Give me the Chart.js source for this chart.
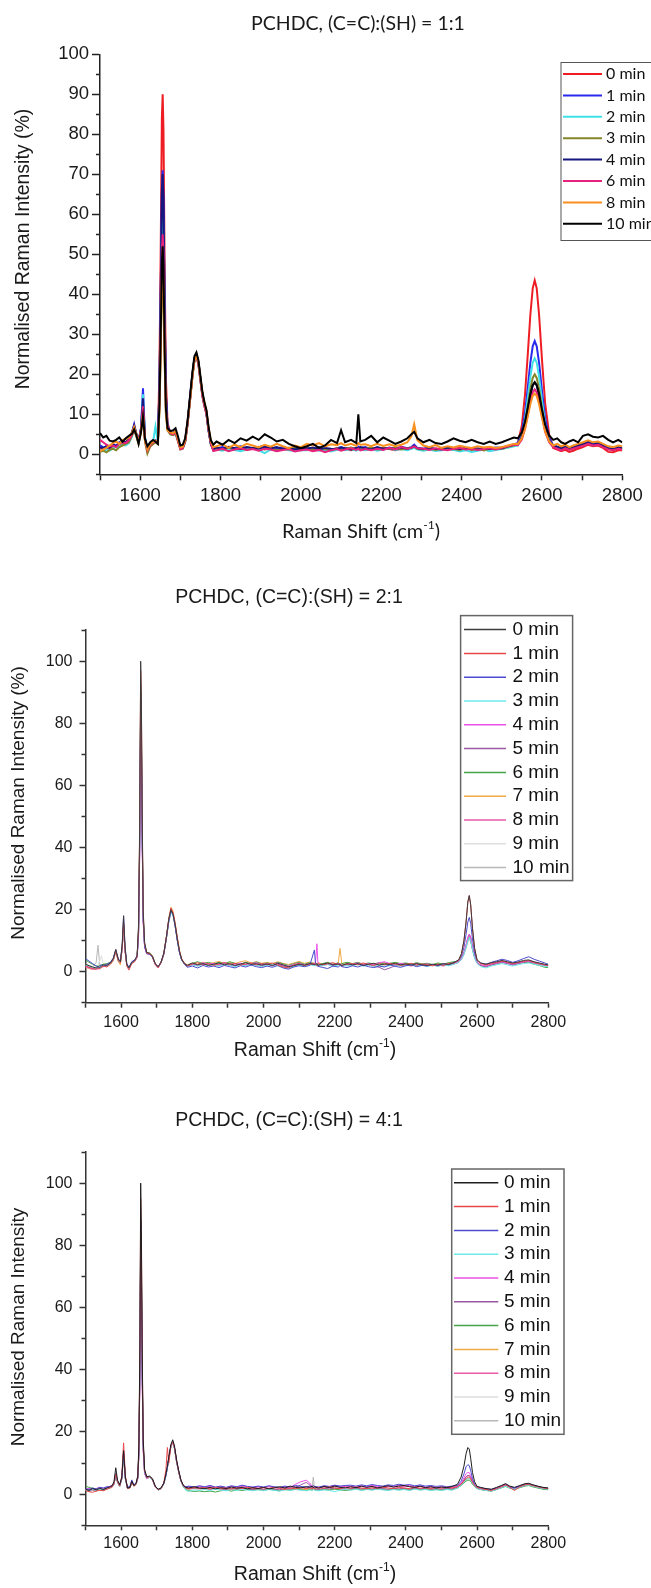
<!DOCTYPE html>
<html>
<head>
<meta charset="utf-8">
<script src="https://cdn.jsdelivr.net/npm/chart.js@4.4.1/dist/chart.umd.min.js"></script>
<style>
  html, body { margin: 0; padding: 0; background: #fff; }
  body { width: 651px; height: 1588px; position: relative; overflow: hidden; }
  canvas { position: absolute; left: 0; }
</style>
</head>
<body>
<canvas id="c1" width="651" height="560" style="top:0px"></canvas>
<canvas id="c2" width="651" height="520" style="top:560px"></canvas>
<canvas id="c3" width="651" height="508" style="top:1080px"></canvas>
<script>
// ---------- (C=C):(SH) = 1:1 ----------
const shift11 = [
  1500,1508,1516,1524,1532,1540,1548,1556,1564,1572,1580,
  1585,1590,1596,1602,1607,1612,1618,
  1625,1632,1638,1644,
  1648,1651,1654,1656,1658,1661,1664,1668,
  1675,1682,1688,1694,1700,1706,1712,1718,
  1724,1730,1735,1740,1745,1750,1755,1760,1765,1770,1776,1782,
  1790,1805,1820,1835,1850,1865,1880,1895,1910,1925,1940,1955,1970,1985,2000,
  2015,2030,2045,2060,2075,2090,2100,2110,2125,2138,2143,2148,
  2160,2175,2190,2205,2220,2235,2250,2265,2275,2282,2290,
  2305,2320,2335,2350,2365,2380,2395,2410,2425,2440,2455,2470,2485,2500,2515,2530,
  2540,2550,2558,2565,2571,2577,2582,2587,2593,2600,2608,2618,
  2628,2638,2648,2658,2668,2678,2690,2702,2715,2727,2740,2752,2765,2777,2790,2800
];
const labels11 = ['0 min','1 min','2 min','3 min','4 min','6 min','8 min','10 min'];
const ratio11_t0 = [
  1.5,1.2,1.8,1.4,2.0,2.2,2.6,2.4,3.0,3.6,5.0,
  6.5,5.0,3.0,6.0,11.0,3.5,0.8,
  2.0,2.6,3.2,2.8,
  22,50,84,90,81,45,19,8,
  5.2,5.0,5.5,3.5,1.5,1.6,3.2,7.8,
  13.5,19.5,23.5,24.5,22.5,18.5,14.5,12,10,6,2.6,1.4,
  1.6,1.2,1.8,1.5,1.2,1.7,1.4,1.9,1.3,1.6,1.2,1.5,1.1,1.4,1.0,
  1.3,1.0,1.4,0.9,1.2,1.5,1.1,1.3,1.0,1.4,1.6,1.2,
  1.1,1.5,1.2,1.6,1.3,1.0,1.4,1.2,1.5,1.8,1.3,
  1.1,1.4,1.0,1.3,1.5,1.2,1.0,1.4,1.1,1.3,1.0,1.2,1.5,1.3,1.8,2.2,
  2.8,7.2,15.2,25.4,34.7,41.5,43.5,41.5,34.7,23.8,12.7,4.9,
  1.6,1.2,0.8,1.1,0.6,0.9,1.4,1.8,2.4,2.0,2.2,1.6,0.6,0.5,1.0,1.0
];
const ratio11_t1 = [
  2.2,1.8,1.5,2.0,2.6,2.1,3.0,3.4,2.8,3.5,5.5,
  7.5,5.2,3.2,6.5,16.5,4.0,1.5,
  2.4,3.0,3.5,3.0,
  17,39,66,71,64,36,15,7,
  5.6,5.2,5.8,3.8,1.6,1.7,3.4,8.0,
  14,20,24,25,23,19,15,12.5,10.5,6.2,2.6,1.2,
  1.4,1.8,1.2,1.6,2.0,1.5,1.3,1.8,2.2,1.6,1.4,1.9,1.3,1.6,1.2,
  1.6,1.3,1.8,1.2,0.9,1.5,1.8,1.4,1.6,1.2,1.9,1.5,
  1.8,1.3,1.6,1.2,1.7,1.4,1.9,1.5,1.8,2.4,1.6,
  1.4,1.7,1.2,1.5,1.8,1.4,1.2,1.6,1.3,1.5,1.1,1.4,1.7,1.6,2.0,2.5,
  2.8,5.6,10.5,17,22.8,27,28.3,27,22.8,16,9,4.1,
  2.2,1.8,1.4,2.0,1.6,1.9,2.4,2.8,3.2,2.6,3.0,2.4,1.6,1.2,1.8,1.5
];
const ratio11_t2 = [
  1.0,0.8,1.2,0.9,1.5,1.8,2.0,2.4,2.2,2.8,4.5,
  6.5,4.8,3.0,6.0,15.0,4.2,1.0,
  2.2,3.0,7.0,3.2,
  15,34,58,62,56,31,13,7,
  5.0,4.8,5.2,3.4,1.4,1.5,3.2,7.6,
  13.5,19.5,23.5,24.5,22.5,18.5,14.5,12,10,6,2.4,1.0,
  1.2,0.9,1.4,1.1,0.8,1.2,1.5,1.0,0.3,1.2,0.9,1.3,1.0,0.8,1.1,
  1.0,1.4,0.9,1.2,0.7,1.1,1.5,1.0,1.3,0.9,1.2,1.4,
  1.0,1.3,0.9,1.2,1.5,1.1,1.3,1.0,1.4,1.6,1.2,
  0.9,1.2,0.8,1.0,1.3,1.1,0.7,1.0,0.6,0.9,1.2,0.8,1.1,1.3,1.6,2.0,
  2.2,4.5,8.8,14.3,19.3,22.9,24,22.9,19.3,13.5,7.5,3.3,
  2.0,1.6,1.2,1.8,1.4,1.7,2.0,2.4,2.8,2.3,2.6,2.0,1.4,1.1,1.5,1.3
];
const ratio11_t3 = [
  0.6,0.9,0.5,1.1,1.4,1.0,1.8,2.2,2.6,3.0,4.8,
  6.0,4.6,2.6,5.5,10.5,3.2,0.2,
  2.0,2.6,3.0,2.6,
  11,25,42,45,40,23,10,6,
  5.0,4.8,5.3,3.3,1.2,1.4,3.0,7.4,
  13.5,19.5,23.5,25,23,19,15,12.5,10.5,6.5,2.6,1.2,
  1.5,1.2,1.7,1.3,1.6,1.1,1.4,1.8,1.2,1.5,1.0,1.4,1.2,1.6,1.3,
  1.5,1.2,1.6,1.3,1.1,1.5,1.2,1.4,1.7,1.3,1.5,1.2,
  1.4,1.7,1.2,1.5,1.3,1.6,1.2,1.5,1.7,2.0,1.4,
  1.2,1.5,1.1,1.4,1.6,1.3,1.1,1.5,1.2,1.4,1.0,1.3,1.6,1.4,1.9,2.2,
  2.6,4.4,7.9,12.2,16.2,19.1,20,19.1,16.2,11.6,6.8,3.4,
  2.0,1.7,1.3,1.6,1.2,1.5,1.9,2.3,2.7,2.2,2.5,1.9,1.4,1.2,1.6,1.4
];
const ratio11_t4 = [
  1.8,1.5,2.1,1.7,2.4,2.0,2.8,3.2,3.0,3.8,5.6,
  7.2,5.4,3.4,6.4,14,4.0,1.2,
  2.5,3.1,3.4,3.0,
  17,38.5,65,70,63,35,15,7,
  5.4,5.3,5.7,3.6,1.6,1.7,3.4,7.9,
  14,20,24,25,23,18.8,14.8,12.3,10.3,6.2,2.5,1.3,
  1.7,1.4,1.9,1.5,1.3,1.8,1.6,1.4,1.9,1.5,1.8,1.3,1.6,1.2,1.5,
  1.4,1.7,1.2,1.6,1.4,1.3,1.7,1.5,1.2,1.6,1.4,1.8,
  1.5,1.2,1.8,1.4,1.6,1.3,1.7,1.4,1.6,2.1,1.5,
  1.3,1.6,1.4,1.2,1.7,1.5,1.3,1.6,1.4,1.2,1.5,1.3,1.6,1.5,2.0,2.4,
  2.5,4.2,7.2,11.1,14.6,17.2,18,17.2,14.6,10.5,6.3,3.3,
  2.3,1.9,1.5,2.0,1.6,1.8,2.2,2.6,3.0,2.4,2.8,2.2,1.5,1.3,1.7,1.5
];
const ratio11_t6 = [
  3.6,3.0,2.4,2.0,2.2,1.8,2.6,3.0,2.8,3.5,5.0,
  6.6,5.0,3.2,6.0,12,3.6,1.0,
  2.4,3.0,3.3,2.8,
  13,30,51,55,50,28,12,6.5,
  5.3,5.0,5.6,3.4,1.3,1.5,3.3,7.7,
  13.5,19.5,23.5,24.5,22.5,18.5,14.5,12,10,6.3,2.7,0.8,
  1.0,1.4,0.8,1.2,1.5,1.1,1.3,0.9,1.4,1.2,0.8,1.1,1.3,0.7,1.0,
  1.2,0.8,1.1,0.5,1.0,1.3,0.9,1.2,1.5,1.1,1.4,1.0,
  1.3,1.0,1.4,1.1,1.6,1.2,1.8,1.4,1.6,2.0,1.5,
  1.4,1.1,1.5,1.2,1.0,1.3,1.6,1.2,1.4,1.1,1.3,1.5,1.2,1.6,2.0,2.4,
  2.3,3.7,6.5,10,13.2,15.5,16.2,15.5,13.2,9.5,5.6,3.0,
  1.8,1.4,1.0,1.5,1.1,1.4,1.8,2.1,2.6,2.2,2.4,1.8,1.2,1.0,1.4,1.2
];
const ratio11_t8 = [
  0.8,1.2,1.6,2.2,2.8,3.2,2.6,3.6,3.8,4.2,5.5,
  6.8,5.2,3.0,5.8,10,3.4,1.2,
  2.6,3.2,3.4,3.0,
  11,26,44,47,42,24,10.5,6,
  5.5,5.3,5.9,3.8,1.7,1.9,3.6,8.1,
  13.5,19.5,23.5,24.5,23,19,15.2,12.8,10.8,6.8,3.2,1.8,
  2.0,2.5,1.6,2.4,1.8,2.6,2.2,1.7,2.4,1.9,2.6,2.0,1.5,2.2,1.8,
  2.6,2.2,2.8,2.0,2.5,2.3,2.8,2.2,2.6,2.1,2.8,2.4,
  2.5,2.0,2.6,2.1,2.5,2.0,2.4,3.0,4.5,7.5,3.5,
  2.2,1.8,2.3,1.6,2.0,1.7,2.1,1.8,1.6,2.0,1.7,1.9,1.6,1.8,2.2,2.6,
  2.6,4.0,6.4,9.6,12.5,14.6,15.2,14.6,12.5,9.1,5.7,3.2,
  2.2,2.6,2.0,2.4,1.8,2.2,2.6,3.0,3.5,3.0,3.2,2.6,2.0,1.8,2.2,2.0
];
const ratio11_t10 = [
  5.3,4.2,4.6,3.4,3.2,3.6,4.2,3.1,4.0,4.6,5.2,
  6.2,5.0,2.6,5.5,9.5,3.8,2.0,
  3.0,3.6,3.2,2.6,
  12.5,29,48,52,47,26,11.5,6.5,
  5.8,6.0,6.5,4.5,2.2,2.4,4.0,8.4,
  14.5,20.5,24.5,25.5,23.5,19.5,15.5,13,11,7,3.5,2.4,
  3.2,2.4,3.6,2.8,4.0,3.4,4.4,3.6,5.0,4.2,3.2,3.6,2.6,2.0,1.5,
  2.0,2.6,1.6,2.2,3.6,2.8,6.0,3.0,3.6,2.8,10,3.2,
  3.6,4.6,3.0,4.2,3.4,2.6,3.2,4.0,5.0,5.6,4.0,
  3.0,3.6,2.8,2.6,3.2,4.0,3.4,3.0,3.6,3.0,2.6,3.2,2.6,3.0,3.6,4.2,
  4.0,5.5,8.2,11.8,15,17.3,18,17.3,15,11.2,7.4,4.7,
  3.6,4.0,3.0,2.6,3.2,3.6,3.0,4.6,5.0,4.4,4.2,4.6,3.6,3.0,3.6,3.0
];
const colors11 = ['#ee1d23','#2a2aee','#40e0e8','#85862a','#16167e','#e8217c','#f88f1e','#000000'];

// ---------- (C=C):(SH) = 2:1 ----------
const shift21 = [
  1500,1510,1520,1530,1535,1540,1545,1550,1560,1570,
  1578,1585,1592,1598,1603,1607,1611,1616,1622,1630,
  1638,1645,1649,1652,1655,1657,1659,1662,1666,1672,
  1680,1688,1696,1704,1712,1720,1727,1734,1740,1746,
  1752,1758,1764,1770,1778,1786,1800,1815,1830,1845,
  1860,1875,1890,1905,1920,1935,1950,1965,1980,1995,
  2010,2025,2040,2055,2070,2085,2100,2115,2130,2143,
  2146,2150,2153,2165,2180,2195,2210,2215,2220,2235,
  2250,2265,2280,2295,2310,2325,2340,2355,2370,2385,
  2400,2415,2430,2445,2460,2475,2490,2505,2520,2535,
  2548,2556,2563,2569,2574,2578,2582,2587,2593,2600,
  2610,2625,2640,2655,2670,2685,2700,2715,2730,2745,
  2760,2775,2790,2800
];
const labels21 = ['0 min','1 min','2 min','3 min','4 min','5 min','6 min','7 min','8 min','9 min','10 min'];
const ratio21_t0 = [
  2.4,1.9,1.5,1.2,1.6,1.3,1.8,2.2,2.0,2.8,
  4.2,7.2,4.0,3.2,8.5,18,8.0,2.4,1.2,3.0,
  3.6,5.2,15,46,100,88,55,20,9.5,6.2,
  6.0,5.0,2.6,1.6,3.0,6.0,11,17,20,18.5,
  15,10.5,6.5,4,2.6,2.0,2.8,2.2,2.6,2.0,
  2.4,2.8,2.2,2.6,2.0,2.4,2.9,2.3,2.6,2.1,
  2.5,2.0,2.7,2.2,1.6,1.9,2.4,2.1,2.6,2.3,
  2.2,2.6,2.0,2.4,2.8,2.2,2.5,2.3,2.0,2.6,
  2.2,2.6,2.0,2.4,2.7,2.1,2.5,2.3,2.7,2.2,
  2.5,2.1,2.6,2.2,2.0,2.4,2.1,2.6,2.3,2.9,
  3.8,5.8,10,16,22.5,24.5,21.5,14,7.5,3.8,
  2.8,2.4,2.9,3.2,3.6,3.2,2.8,3.1,3.6,3.8,
  3.2,2.8,2.4,2.2
];
const ratio21_t1 = [
  1.8,1.4,1.0,0.8,1.2,0.9,1.4,1.8,1.5,2.4,
  3.8,6.5,3.5,2.8,7.5,15.5,7.0,1.8,0.5,2.6,
  3.2,4.8,14,44,97,86,53,19,9.0,6.0,
  5.8,4.8,2.2,1.2,2.8,5.8,11,17,20.5,19,
  15.5,11,6.8,4.2,2.5,1.8,2.4,2.9,2.2,2.6,
  2.0,2.5,2.9,2.3,2.7,2.1,2.5,2.8,2.2,2.6,
  2.3,2.8,2.1,1.5,1.2,2.2,2.6,2.0,2.4,2.8,
  2.4,2.0,2.6,2.2,2.5,2.9,2.3,2.6,2.1,2.4,
  2.6,2.2,2.8,2.3,2.0,2.5,2.2,2.7,2.4,2.0,
  2.3,2.7,2.1,2.5,2.2,1.9,2.4,2.0,2.6,2.8,
  3.6,5.5,9.8,16,22.5,24.5,21.5,14,7.5,3.6,
  2.6,2.2,2.6,3.0,3.4,3.0,2.6,3.0,3.3,3.6,
  3.0,2.6,2.2,2.0
];
const ratio21_t2 = [
  4.2,3.4,2.6,1.8,1.5,1.8,2.2,1.9,2.4,3.0,
  4.4,7.0,4.2,3.4,8.6,18,8.2,2.6,1.4,3.2,
  3.8,5.0,12,38,85,75,47,17,8.0,5.8,
  5.6,4.6,2.4,1.4,2.9,5.6,10.5,16.5,19.5,18.5,
  14.5,10,6.2,3.8,2.4,1.4,1.8,1.2,2.0,1.5,
  1.8,1.3,2.0,1.6,1.2,1.9,1.5,2.1,1.6,1.3,
  1.8,1.4,2.0,1.2,0.8,1.5,1.9,1.6,2.0,7.0,
  2.6,2.0,1.7,1.4,1.0,1.8,1.5,2.0,1.6,1.3,
  1.9,1.5,2.1,1.6,1.3,1.8,1.5,2.2,1.7,1.4,
  1.9,2.2,1.6,2.0,1.8,2.3,1.9,2.5,2.3,3.0,
  3.6,5.0,7.8,12,16,17.5,15.5,10.5,6.0,3.5,
  2.8,2.4,3.0,3.5,4.0,3.6,3.0,3.5,4.2,4.8,
  4.0,3.4,2.8,2.4
];
const ratio21_t3 = [
  2.0,1.6,1.3,1.0,1.4,1.2,1.5,1.9,1.7,2.5,
  3.6,6.4,3.6,2.8,7.6,15.5,7.2,2.0,1.0,2.8,
  3.3,4.8,13,40,88,77,48,18,8.5,5.9,
  5.8,4.8,2.4,1.4,2.8,5.6,10.5,16,19,18,
  14.5,10,6.2,3.8,2.3,1.7,2.2,1.8,2.4,2.0,
  2.2,1.8,2.4,2.0,1.6,2.2,1.9,2.4,2.0,1.7,
  2.0,2.4,1.8,1.4,1.1,1.7,2.1,1.8,2.2,1.9,
  2.1,1.8,2.2,1.9,2.3,1.7,2.1,1.9,2.2,1.8,
  2.0,2.3,1.8,2.1,1.7,2.0,1.6,1.9,2.2,1.8,
  2.0,2.3,1.9,2.1,1.7,2.0,1.8,2.2,1.9,2.4,
  3.0,4.0,5.6,7.8,10,11,10,7.0,4.4,2.6,
  1.6,1.2,1.8,2.2,2.6,2.2,1.8,2.2,2.6,2.8,
  2.4,2.0,1.7,1.6
];
const ratio21_t4 = [
  1.6,1.2,0.8,1.0,0.8,1.2,1.5,1.6,1.8,2.6,
  3.8,6.8,3.8,3.0,7.4,14.5,6.8,2.2,1.2,2.8,
  3.4,4.6,11,36,80,70,44,16,8.0,5.8,
  5.8,4.9,2.5,1.5,3.0,5.8,10.8,16.5,19.5,18.5,
  14.8,10.2,6.4,4.0,2.6,2.0,2.6,2.2,2.9,2.4,
  2.7,2.2,2.9,2.4,2.1,2.8,2.3,2.6,2.9,2.3,
  2.6,2.2,2.8,2.1,1.8,2.3,2.7,2.2,2.6,2.4,
  2.8,9.0,2.6,2.2,2.7,2.3,2.6,2.4,2.0,2.5,
  2.4,2.8,2.2,2.6,2.3,2.9,3.2,2.6,2.3,2.7,
  2.4,2.0,2.6,2.2,2.5,2.1,2.4,2.0,2.6,2.8,
  3.2,4.2,6.0,8.5,11,12,11,7.8,4.8,2.8,
  2.2,1.8,2.4,2.8,3.2,2.8,2.4,2.8,3.2,3.4,
  3.0,2.6,2.2,2.0
];
const ratio21_t5 = [
  2.0,1.5,1.1,0.9,1.3,1.0,1.6,1.8,1.9,2.6,
  3.7,6.6,3.7,2.9,7.4,15,7.0,2.0,1.1,2.7,
  3.3,4.7,12,39,86,76,47,17,8.2,5.8,
  5.7,4.8,2.4,1.5,2.9,5.7,10.6,16.2,19.2,18.2,
  14.6,10,6.3,3.9,2.5,1.9,2.3,1.9,2.5,2.1,
  2.4,1.9,2.5,2.1,1.8,2.4,2.0,2.6,2.2,1.9,
  2.3,1.9,2.4,1.8,1.3,1.9,2.3,1.9,2.4,2.1,
  2.4,2.0,2.3,2.0,2.4,2.0,2.3,2.1,1.8,2.2,
  2.1,2.5,1.9,2.2,1.8,1.4,0.6,1.2,1.9,2.3,
  2.1,2.5,2.0,2.3,1.9,2.2,1.8,2.3,2.0,2.5,
  3.0,4.0,5.8,8.2,10.8,12,10.8,7.6,4.6,2.7,
  2.0,1.6,2.2,2.6,3.0,2.6,2.2,2.6,3.0,3.2,
  2.8,2.4,2.0,1.8
];
const ratio21_t6 = [
  3.8,3.0,2.4,1.9,1.7,2.0,2.2,2.4,2.6,3.0,
  4.0,6.8,3.9,3.1,7.8,15.5,7.2,2.3,1.2,2.9,
  3.5,4.9,13,41,90,79,49,18,8.5,5.9,
  5.9,4.9,2.5,1.5,2.9,5.8,10.8,16.4,19.5,18.5,
  14.8,10.2,6.4,4.0,2.6,2.1,2.7,3.2,2.6,3.0,
  2.5,3.0,2.6,3.2,2.7,2.4,3.0,2.6,3.1,2.5,
  2.8,2.4,3.0,2.5,2.0,2.6,3.0,2.4,2.9,2.6,
  2.3,2.7,2.2,2.6,3.0,2.4,2.8,2.3,2.6,3.0,
  2.6,3.0,2.4,2.8,2.5,2.9,2.4,2.7,3.0,2.6,
  2.8,2.4,2.9,2.5,2.7,2.3,2.8,2.4,2.9,3.2,
  3.4,4.4,6.0,8.0,10,11,10,7.2,4.6,2.9,
  2.0,1.6,2.2,2.6,3.0,2.8,2.2,2.6,3.0,3.0,
  2.4,2.0,1.4,1.3
];
const ratio21_t7 = [
  1.4,1.0,0.7,0.9,1.1,1.4,1.3,1.7,1.9,2.4,
  3.4,6.4,3.2,2.2,7.2,15,7.0,2.1,1.0,2.7,
  3.3,4.8,13,42,92,81,50,18,8.6,6.0,
  6.1,5.1,2.6,1.6,3.0,6.0,11.2,17.2,20.8,19.5,
  15.4,10.8,6.8,4.2,2.7,2.2,2.8,2.4,3.0,2.6,
  2.9,3.3,2.6,3.0,2.6,3.2,3.5,2.8,3.2,2.7,
  3.0,2.6,3.2,2.7,2.3,2.8,3.3,2.7,3.1,2.6,
  2.8,2.4,2.9,2.5,2.8,2.4,2.8,7.5,2.6,2.9,
  2.5,2.9,2.4,2.7,2.3,2.6,2.8,2.4,2.9,2.5,
  2.6,2.2,2.7,2.3,2.6,2.2,2.6,2.3,2.8,3.0,
  3.2,4.2,6.0,8.4,10.8,11.5,10.6,7.6,4.8,3.0,
  2.2,1.8,2.4,2.8,3.2,2.9,2.4,2.8,3.2,3.4,
  3.0,2.6,2.2,2.0
];
const ratio21_t8 = [
  1.7,1.3,0.9,1.1,1.0,1.3,1.6,1.7,2.0,2.7,
  3.9,6.9,3.9,3.1,7.3,14,6.6,2.1,1.1,2.8,
  3.4,4.7,12,37,83,73,45,16.5,8.0,5.8,
  5.8,4.9,2.5,1.5,2.9,5.8,10.7,16.4,19.3,18.3,
  14.7,10.1,6.3,3.9,2.5,1.9,2.5,2.1,2.7,2.3,
  2.6,2.1,2.7,2.3,2.0,2.6,2.2,2.7,2.4,2.0,
  2.4,2.0,2.6,2.0,1.6,2.1,2.5,2.0,2.5,2.2,
  2.5,2.1,2.4,2.1,2.5,2.1,2.4,2.2,1.9,2.3,
  2.2,2.6,2.0,2.4,2.1,2.7,2.9,2.4,2.1,2.5,
  2.2,1.8,2.4,2.0,2.3,1.9,2.2,1.8,2.4,2.6,
  3.2,4.3,6.1,8.6,11,12,11,7.8,4.8,2.8,
  2.1,1.7,2.3,2.7,3.1,2.7,2.3,2.7,3.1,3.3,
  2.9,2.5,2.1,1.9
];
const ratio21_t9 = [
  2.2,1.7,1.3,1.6,2.2,3.5,5.2,2.4,2.0,2.6,
  3.7,6.7,3.7,2.9,7.3,15,7.0,2.1,1.1,2.8,
  3.4,4.8,12,40,88,77,48,17.5,8.4,5.9,
  5.8,4.8,2.4,1.4,2.9,5.7,10.6,16.2,19.2,18.2,
  14.6,10,6.3,3.9,2.4,1.8,2.3,1.9,2.5,2.1,
  2.3,1.9,2.5,2.1,1.8,2.4,2.0,2.5,2.1,1.8,
  2.2,1.8,2.4,1.8,1.3,1.9,2.3,1.9,2.4,2.1,
  2.3,1.9,2.2,1.9,2.3,1.9,2.2,2.0,1.8,2.1,
  2.0,2.4,1.9,2.2,1.9,2.3,2.0,2.2,2.4,2.0,
  2.1,2.4,1.9,2.2,1.8,2.1,1.8,2.2,1.9,2.4,
  3.0,3.9,5.5,7.6,9.8,10.5,9.6,7.0,4.4,2.7,
  1.9,1.5,2.1,2.5,2.9,2.5,2.1,2.5,2.9,3.1,
  2.7,2.3,1.9,1.7
];
const ratio21_t10 = [
  2.6,2.0,1.6,3.0,8.5,2.2,2.0,2.2,2.2,2.8,
  3.8,6.8,3.8,3.0,7.5,15,7.1,2.2,1.2,2.9,
  3.5,4.9,12.5,41,89,78,48,17.5,8.4,5.9,
  5.9,4.9,2.5,1.5,2.9,5.7,10.6,16.2,19.2,18.2,
  14.6,10,6.3,3.9,2.5,1.9,2.4,2.0,2.6,2.2,
  2.4,2.0,2.6,2.2,1.9,2.5,2.1,2.6,2.2,1.9,
  2.3,1.9,2.5,1.9,1.4,2.0,2.4,2.0,2.5,2.2,
  2.4,2.0,2.3,2.0,2.4,2.0,2.3,2.1,1.9,2.2,
  2.1,2.5,2.0,2.3,2.0,2.4,2.1,2.3,2.5,2.1,
  2.2,2.5,2.0,2.3,1.9,2.2,1.9,2.3,2.0,2.5,
  3.0,3.9,5.4,7.5,9.6,10.5,9.6,7.0,4.4,2.7,
  2.0,1.6,2.2,2.6,3.0,2.6,2.2,2.6,3.0,3.2,
  2.8,2.4,2.0,1.8
];
const colors21 = ['#3c3c3c','#e8474a','#4c4ccf','#6ee9ec','#ea52ea','#9b59a3','#46a546','#f2a947','#e65aa8','#dedede','#b8b8b8'];

// ---------- (C=C):(SH) = 4:1 ----------
const shift41 = [
  1500,1510,1520,1530,1540,1550,1560,1568,1575,1580,
  1585,1590,1596,1602,1607,1612,1618,1625,1630,1636,
  1642,1647,1650,1653,1655,1657,1659,1662,1666,1672,
  1680,1688,1696,1704,1712,1720,1726,1730,1734,1740,
  1745,1750,1756,1762,1768,1775,1782,1790,1805,1820,
  1835,1850,1865,1880,1895,1910,1925,1940,1955,1970,
  1985,2000,2015,2030,2045,2060,2075,2090,2105,2120,
  2130,2137,2140,2143,2155,2170,2185,2200,2215,2230,
  2245,2260,2275,2290,2305,2320,2335,2350,2365,2380,
  2395,2410,2425,2440,2455,2470,2485,2500,2515,2530,
  2545,2555,2563,2569,2574,2578,2582,2587,2593,2600,
  2610,2625,2640,2655,2668,2680,2692,2705,2720,2735,
  2745,2755,2770,2785,2800
];
const labels41 = ['0 min','1 min','2 min','3 min','4 min','5 min','6 min','7 min','8 min','9 min','10 min'];
const ratio41_t0 = [
  1.6,1.2,1.8,1.4,1.9,1.5,2.0,2.4,2.8,4.0,
  8.5,4.5,3.0,5.5,14,5.5,2.0,2.2,4.2,2.8,
  3.4,6.0,16,50,100,85,50,18,8.0,5.6,
  5.8,5.0,2.6,1.6,2.0,3.6,6.5,9,12,16,
  17.5,15.5,11,7.5,4.6,2.8,2.2,2.0,2.4,2.0,
  1.8,2.2,1.7,2.1,1.8,2.3,1.9,2.2,1.7,2.1,
  1.8,2.2,1.7,2.0,2.4,2.0,2.6,2.2,2.0,2.4,
  2.2,2.6,2.0,2.4,1.9,2.5,2.1,2.6,2.2,2.0,
  2.4,2.1,2.6,2.2,2.5,2.0,2.4,2.7,2.3,2.6,
  2.8,2.4,2.2,2.6,2.1,2.4,2.0,2.3,2.1,2.5,
  3.2,5.5,9,13,15,14.5,11.5,7,4,2.5,
  2.2,1.8,1.6,2.2,2.8,3.4,2.6,2.2,2.8,3.4,
  3.5,3.1,2.6,2.2,2.0
];
const ratio41_t1 = [
  1.2,0.8,0.6,1.0,1.3,1.1,1.6,2.0,2.4,3.4,
  6.5,4.0,2.6,5.8,16.5,6.0,1.8,2.0,3.8,2.6,
  3.2,5.7,15,48,95,81,48,17,7.6,5.4,
  5.6,4.8,2.4,1.4,1.8,3.6,8,15,10,15.5,
  16.8,15,10.6,7.2,4.4,2.6,2.0,1.8,2.2,1.9,
  2.1,1.7,2.2,1.8,2.0,1.6,2.1,1.8,2.2,1.9,
  1.7,2.1,1.8,2.2,1.9,1.5,2.0,1.7,2.1,1.8,
  2.0,1.7,2.1,1.8,2.2,1.9,2.4,2.0,1.8,2.2,
  1.9,2.3,2.0,1.7,2.1,1.9,2.3,2.0,1.8,2.2,
  2.0,1.8,2.3,1.9,2.1,1.8,2.2,1.9,2.3,2.0,
  2.4,3.2,4.2,5.0,5.5,5.5,5.0,3.8,2.8,2.2,
  1.8,1.5,1.2,1.8,2.4,3.0,2.2,1.2,2.4,3.0,
  3.2,2.8,2.4,2.0,1.8
];
const ratio41_t2 = [
  1.8,1.5,2.0,1.7,2.2,2.0,2.4,2.2,2.6,3.6,
  6.6,4.2,2.8,5.2,14,5.2,2.2,2.6,4.6,3.0,
  3.6,5.6,14,44,88,75,44,16,7.2,5.4,
  5.7,4.9,2.5,1.5,1.9,3.5,6.3,8.8,11.8,15.8,
  17,15,10.6,7.2,4.4,2.8,2.4,2.6,2.3,2.7,
  2.4,2.8,2.3,2.6,2.2,2.7,2.4,2.9,2.5,2.3,
  2.6,2.3,2.7,2.4,2.2,2.6,2.3,2.8,2.5,2.3,
  2.6,2.4,2.8,2.5,2.3,2.7,2.5,2.9,2.6,2.8,
  2.9,2.6,3.0,2.7,3.1,2.8,2.6,3.0,2.8,3.2,
  2.9,3.1,2.7,3.0,2.6,2.8,2.5,2.7,2.4,2.6,
  2.8,4.2,6.5,8.8,9.5,9.2,7.6,5.0,3.2,2.4,
  2.0,1.7,1.5,2.0,2.6,3.2,2.4,2.0,2.6,3.2,
  3.4,3.0,2.5,2.1,1.9
];
const ratio41_t3 = [
  1.4,1.1,1.5,1.2,1.6,1.3,1.8,2.1,2.4,3.2,
  6.0,3.8,2.5,5.0,13,5.0,1.8,2.0,3.8,2.6,
  3.2,5.2,14,43,85,72,43,15.5,7.0,5.2,
  5.4,4.6,2.3,1.3,1.7,3.3,6.0,8.5,11.4,15.4,
  16.6,14.6,10.3,7.0,4.2,2.4,1.2,0.9,1.4,1.2,
  1.5,1.2,1.6,1.3,1.1,1.5,1.2,1.6,1.3,1.1,
  1.4,1.1,1.5,1.2,1.0,1.4,1.2,1.5,1.3,1.1,
  1.4,1.2,1.5,1.3,1.1,1.4,1.2,0.8,1.3,1.5,
  1.3,1.6,1.2,1.5,1.3,1.6,1.4,1.2,1.5,1.3,
  1.5,1.2,1.6,1.3,1.5,1.2,1.4,1.2,1.5,1.3,
  2.0,2.8,3.8,4.6,5.0,5.0,4.6,3.5,2.5,1.8,
  1.5,1.2,1.0,1.5,2.1,2.6,2.0,1.6,2.2,2.8,
  3.0,2.6,2.2,1.8,1.6
];
const ratio41_t4 = [
  1.5,1.9,1.4,1.8,2.2,1.9,2.3,2.5,2.8,3.6,
  6.4,4.0,2.7,5.0,13,5.0,2.0,2.3,4.2,2.8,
  3.3,5.0,12.5,39,78,66,39,14,6.6,5.0,
  5.5,4.7,2.4,1.4,1.8,3.4,6.1,8.6,11.5,15.5,
  16.7,14.7,10.4,7.1,4.3,2.6,2.2,2.5,2.1,2.6,
  2.3,2.7,2.2,2.5,2.1,2.6,2.3,2.8,2.4,2.2,
  2.5,2.2,2.6,2.3,2.1,2.5,2.2,3.2,4.0,4.5,
  3.6,2.4,2.7,2.4,2.2,2.6,2.4,2.8,2.5,2.7,
  2.6,2.3,2.7,2.4,2.8,2.5,2.3,2.7,2.5,2.9,
  2.6,2.8,2.4,2.7,2.3,2.5,2.2,2.4,2.1,2.3,
  2.6,3.6,5.2,6.6,7.0,6.9,6.0,4.4,3.0,2.2,
  1.9,1.6,1.4,1.9,2.5,3.1,2.3,1.9,2.5,3.1,
  3.3,2.9,2.4,2.0,1.8
];
const ratio41_t5 = [
  1.3,1.0,1.4,1.1,1.5,1.2,1.7,2.0,2.3,3.2,
  6.2,3.9,2.6,5.0,13.5,5.1,1.9,2.1,4.0,2.7,
  3.2,5.1,13,41,82,70,41,15,6.8,5.1,
  5.5,4.7,2.4,1.4,1.8,3.4,6.1,8.6,11.5,15.5,
  16.7,14.7,10.4,7.1,4.3,2.5,1.9,1.7,2.0,1.8,
  1.9,1.6,2.0,1.7,1.5,1.9,1.6,2.0,1.7,1.5,
  1.8,1.5,1.9,1.6,1.4,1.8,1.6,2.2,3.0,3.8,
  3.0,1.8,2.0,1.7,1.5,1.9,1.7,2.0,1.8,1.6,
  1.8,2.0,1.7,1.9,1.6,2.0,1.8,1.6,1.9,1.7,
  1.9,1.6,2.0,1.7,1.9,1.6,1.8,1.6,1.9,1.7,
  2.2,3.2,4.4,5.6,6.0,6.0,5.4,4.0,2.7,2.0,
  1.6,1.3,1.1,1.6,2.2,2.8,2.1,1.7,2.3,2.9,
  3.1,2.7,2.3,1.9,1.7
];
const ratio41_t6 = [
  2.6,2.2,1.9,1.6,1.4,1.7,1.9,2.1,2.5,3.3,
  6.1,3.9,2.6,4.9,13,5.0,1.9,2.1,3.9,2.6,
  3.2,5.2,13.5,43,86,73,43,15.5,7.0,5.2,
  5.4,4.6,2.3,1.3,1.7,3.3,6.0,8.5,11.4,15.4,
  16.6,14.6,10.3,7.0,4.2,2.3,1.4,1.1,0.9,1.0,
  0.8,1.0,0.7,1.1,1.3,1.0,1.4,1.2,1.5,1.3,
  1.5,1.2,1.6,1.3,1.1,1.5,1.3,1.6,1.4,1.2,
  1.5,1.3,1.6,1.4,1.2,1.5,1.3,1.6,1.4,1.2,
  1.4,1.7,1.3,1.6,1.4,1.7,1.5,1.3,1.6,1.4,
  1.6,1.3,1.7,1.4,1.6,1.3,1.5,1.3,1.6,1.4,
  2.0,2.8,3.6,4.2,4.5,4.5,4.2,3.2,2.4,1.8,
  1.5,1.2,1.0,1.5,2.0,2.5,1.9,1.5,2.1,2.6,
  2.8,2.4,2.0,1.6,1.4
];
const ratio41_t7 = [
  1.2,0.9,1.3,1.0,1.4,1.2,1.6,1.9,2.2,3.1,
  6.0,3.8,2.5,4.9,13,5.0,1.8,2.0,3.8,2.6,
  3.2,5.1,13,42,84,71,42,15,6.9,5.1,
  5.4,4.6,2.3,1.3,1.7,3.3,6.0,8.5,11.4,15.4,
  16.6,14.6,10.3,7.0,4.2,2.4,1.8,1.6,1.9,1.7,
  1.8,1.5,1.9,1.6,1.4,1.8,1.5,1.9,1.6,1.4,
  1.7,1.4,1.8,1.5,1.3,1.7,1.5,1.8,1.6,1.4,
  1.7,1.5,1.8,1.6,1.4,1.7,1.5,1.8,1.6,1.4,
  1.6,1.9,1.5,1.8,1.6,1.9,1.7,1.5,1.8,1.6,
  1.8,1.5,1.9,1.6,1.8,1.5,1.7,1.5,1.8,1.6,
  2.1,3.0,4.0,4.8,5.0,5.0,4.6,3.5,2.5,1.9,
  1.6,1.3,1.1,1.6,2.2,2.8,2.1,1.7,2.3,2.9,
  3.1,2.7,2.3,1.9,1.7
];
const ratio41_t8 = [
  1.4,1.1,1.5,1.2,1.7,1.4,1.8,2.1,2.4,3.3,
  6.3,4.0,2.6,5.1,13.5,5.1,1.9,2.2,4.0,2.7,
  3.3,5.0,13,40,80,68,40,14.5,6.7,5.0,
  5.5,4.7,2.4,1.4,1.8,3.4,6.1,8.6,11.5,15.5,
  16.7,14.7,10.4,7.1,4.3,2.5,2.0,2.3,1.9,2.4,
  2.1,2.5,2.0,2.3,1.9,2.4,2.1,2.5,2.2,2.0,
  2.3,2.0,2.4,2.1,1.9,2.3,2.0,2.5,2.2,2.0,
  2.3,2.1,2.4,2.2,2.0,2.4,2.2,2.6,2.3,2.5,
  2.4,2.1,2.5,2.2,2.6,2.3,2.1,2.5,2.3,2.7,
  2.4,2.6,2.2,2.5,2.1,2.3,2.0,2.2,1.9,2.1,
  2.4,3.3,4.6,5.6,6.0,6.0,5.4,4.0,2.8,2.1,
  1.8,1.5,1.3,1.8,2.4,3.0,2.2,1.8,2.4,3.0,
  3.2,2.8,2.4,2.0,1.8
];
const ratio41_t9 = [
  1.3,1.0,1.4,1.1,1.5,1.3,1.7,2.0,2.3,3.1,
  6.0,3.8,2.5,4.8,12.5,4.8,1.8,2.0,3.8,2.6,
  3.2,5.1,13,41,83,70,41,15,6.8,5.1,
  5.4,4.6,2.3,1.3,1.7,3.3,6.0,8.5,11.4,15.4,
  16.6,14.6,10.3,7.0,4.2,2.4,1.7,1.5,1.8,1.6,
  1.7,1.4,1.8,1.5,1.3,1.7,1.4,1.8,1.5,1.3,
  1.6,1.3,1.7,1.4,1.2,1.6,1.4,1.7,1.5,1.3,
  1.6,1.4,1.7,1.5,1.3,1.6,1.4,1.7,1.5,1.3,
  1.5,1.8,1.4,1.7,1.5,1.8,1.6,1.4,1.7,1.5,
  1.7,1.4,1.8,1.5,1.7,1.4,1.6,1.4,1.7,1.5,
  2.0,2.8,3.7,4.3,4.5,4.5,4.2,3.2,2.4,1.8,
  1.5,1.2,1.0,1.5,2.1,2.6,2.0,1.6,2.2,2.8,
  3.0,2.6,2.2,1.8,1.6
];
const ratio41_t10 = [
  1.4,1.1,1.5,1.2,1.6,1.3,1.8,2.1,2.4,3.2,
  6.1,3.9,2.6,4.9,13,5.0,1.9,2.1,3.9,2.7,
  3.3,5.2,14,44,87,74,44,16,7.1,5.2,
  5.5,4.7,2.4,1.4,1.8,3.4,6.1,8.6,11.5,15.5,
  16.7,14.7,10.4,7.1,4.3,2.5,1.8,1.6,1.9,1.7,
  1.8,1.5,1.9,1.6,1.4,1.8,1.5,1.9,1.6,1.4,
  1.7,1.4,1.8,1.5,1.3,1.7,1.5,1.8,1.6,1.4,
  1.8,2.5,5.5,1.8,1.4,1.7,1.5,1.8,1.6,1.4,
  1.6,1.9,1.5,1.8,1.6,1.9,1.7,1.5,1.8,1.6,
  1.8,1.5,1.9,1.6,1.8,1.5,1.7,1.5,1.8,1.6,
  2.2,3.0,4.0,4.8,5.0,5.0,4.6,3.5,2.5,1.9,
  1.6,1.3,1.1,1.6,2.2,2.8,2.1,1.7,2.3,2.9,
  3.1,2.7,2.3,1.9,1.7
];
const colors41 = ['#1e1e1e','#e8474a','#4c4ccf','#6ee9ec','#ea52ea','#9b59a3','#46a546','#f2a947','#e65aa8','#dedede','#b8b8b8'];

// ---------- drawing ----------
Chart.defaults.font.family = '"Liberation Sans", Arial, sans-serif';
Chart.defaults.color = '#1a1a1a';

// title, axis titles and the boxed legend
const deco = {
  id: 'deco',
  afterDraw(chart, args, o) {
    const ctx = chart.ctx;
    ctx.save();
    ctx.fillStyle = '#1a1a1a';
    ctx.textBaseline = 'middle';
    ctx.textAlign = 'center';
    ctx.font = o.titleFont;
    ctx.fillText(o.title, o.titleX, o.titleY);

    ctx.save();
    ctx.translate(o.yTitleX, o.yTitleY);
    ctx.rotate(-Math.PI / 2);
    ctx.font = o.yTitleFont;
    ctx.fillText(o.yTitle, 0, 0);
    ctx.restore();

    // Raman Shift (cm^-1)
    ctx.textAlign = 'left';
    ctx.font = o.xTitleFont;
    const a = 'Raman Shift (cm', c = ')';
    const wa = ctx.measureText(a).width, wc = ctx.measureText(c).width;
    ctx.font = o.supFont;
    const wb = ctx.measureText('-1').width;
    const x0 = o.xTitleX - (wa + wb + wc) / 2;
    ctx.font = o.xTitleFont;
    ctx.fillText(a, x0, o.xTitleY);
    ctx.fillText(c, x0 + wa + wb, o.xTitleY);
    ctx.font = o.supFont;
    ctx.fillText('-1', x0 + wa, o.xTitleY - o.supRise);

    const L = o.legend;
    ctx.fillStyle = '#fff';
    ctx.fillRect(L.x, L.y, L.w, L.h);
    ctx.strokeStyle = L.border;
    ctx.lineWidth = L.borderWidth;
    ctx.strokeRect(L.x, L.y, L.w, L.h);
    ctx.font = L.font;
    chart.data.datasets.forEach((ds, i) => {
      const y = L.row0 + i * L.step;
      ctx.strokeStyle = ds.borderColor;
      ctx.lineWidth = L.lineWidth;
      ctx.beginPath();
      ctx.moveTo(L.x1, y);
      ctx.lineTo(L.x2, y);
      ctx.stroke();
      ctx.fillStyle = '#111';
      ctx.fillText(ds.label, L.tx, y);
    });
    ctx.restore();
  }
};

function series(xs, ys, label, color, width, order) {
  return {
    label,
    data: xs.map((x, i) => ({ x, y: ys[i] })),
    borderColor: color,
    borderWidth: width,
    pointRadius: 0,
    fill: false,
    tension: 0,
    order
  };
}

function scales(s) {
  return {
    x: {
      type: 'linear', min: 1500, max: 2800,
      afterFit: sc => { sc.height = s.xh; },
      border: { color: s.axisColor, width: s.axisW },
      grid: { drawOnChartArea: false, tickLength: s.xtl, tickColor: s.axisColor, tickWidth: s.axisW },
      ticks: {
        stepSize: 100, autoSkip: false, maxRotation: 0, padding: s.xpad, color: '#1a1a1a',
        font: { size: s.tickSize },
        callback: v => v % 200 === 0 ? String(v) : ''
      }
    },
    y: {
      type: 'linear', min: s.ymin, max: s.ymax,
      afterFit: sc => { sc.width = s.yw; },
      border: { color: s.axisColor, width: s.axisW },
      grid: {
        drawOnChartArea: false, tickLength: s.ytl, tickColor: s.axisColor, tickWidth: s.axisW,
        tickBorderDash: c => (c.tick && c.tick.value % s.major === 0) ? [] : [0, s.ytl - s.minorLen, s.minorLen, 60]
      },
      ticks: {
        stepSize: s.minor, autoSkip: false, padding: s.ypad, color: '#1a1a1a',
        font: { size: s.tickSize },
        callback: v => (v >= 0 && v <= 100 && v % s.major === 0) ? String(v) : ''
      }
    }
  };
}

function makeChart(id, xs, sets, labels, colors, lw, topFirst, s, d) {
  const n = sets.length;
  new Chart(document.getElementById(id), {
    type: 'line',
    data: {
      datasets: sets.map((ys, i) => series(xs, ys, labels[i], colors[i], lw, topFirst ? i : n - i))
    },
    options: {
      responsive: false, animation: false, devicePixelRatio: 1,
      layout: { padding: s.pad },
      plugins: { legend: { display: false }, title: { display: false }, tooltip: { enabled: false }, deco: d },
      scales: scales(s)
    },
    plugins: [deco]
  });
}

makeChart('c1', shift11,
  [ratio11_t0, ratio11_t1, ratio11_t2, ratio11_t3, ratio11_t4, ratio11_t6, ratio11_t8, ratio11_t10],
  labels11, colors11, 2, false,
  { pad: { left: 0, right: 28.7, top: 54.3, bottom: 0 }, yw: 100, xh: 85.7,
    ymin: -5, ymax: 100, minor: 5, major: 10, ytl: 8, minorLen: 4, ypad: 3,
    xtl: 6, xpad: 5, tickSize: 18.5, axisW: 1.5, axisColor: '#222' },
  { title: 'PCHDC, (C=C):(SH) = 1:1', titleFont: '19.5px Lato', titleX: 358, titleY: 24,
    yTitle: 'Normalised Raman Intensity (%)', yTitleFont: '19.5px "Liberation Sans"', yTitleX: 24, yTitleY: 249,
    xTitleFont: '20px Lato', supFont: '12px Lato', supRise: 7, xTitleX: 361, xTitleY: 532,
    legend: { x: 561, y: 62.5, w: 95, h: 178, row0: 74, step: 21.4, x1: 563, x2: 602, tx: 606,
      font: '16px Lato', lineWidth: 2, border: '#555', borderWidth: 1 } });

makeChart('c2', shift21,
  [ratio21_t0, ratio21_t1, ratio21_t2, ratio21_t3, ratio21_t4, ratio21_t5, ratio21_t6, ratio21_t7, ratio21_t8, ratio21_t9, ratio21_t10],
  labels21, colors21, 1, true,
  { pad: { left: 0, right: 102.7, top: 70.2, bottom: 0 }, yw: 85.5, xh: 77.3,
    ymin: -10, ymax: 110, minor: 10, major: 20, ytl: 6, minorLen: 4, ypad: 7,
    xtl: 5, xpad: 5, tickSize: 16, axisW: 1.5, axisColor: '#333' },
  { title: 'PCHDC, (C=C):(SH) = 2:1', titleFont: '19.5px "Liberation Sans"', titleX: 289, titleY: 38,
    yTitle: 'Normalised Raman Intensity (%)', yTitleFont: '19px "Liberation Sans"', yTitleX: 18.7, yTitleY: 243,
    xTitleFont: '19.5px "Liberation Sans"', supFont: '12px "Liberation Sans"', supRise: 7, xTitleX: 315, xTitleY: 490.8,
    legend: { x: 460.6, y: 55.6, w: 112, h: 265, row0: 69.6, step: 23.8, x1: 464, x2: 506, tx: 512.5,
      font: '19px "Liberation Sans"', lineWidth: 1.5, border: '#666', borderWidth: 1.5 } });

makeChart('c3', shift41,
  [ratio41_t0, ratio41_t1, ratio41_t2, ratio41_t3, ratio41_t4, ratio41_t5, ratio41_t6, ratio41_t7, ratio41_t8, ratio41_t9, ratio41_t10],
  labels41, colors41, 1, true,
  { pad: { left: 0, right: 102.7, top: 72, bottom: 0 }, yw: 85.5, xh: 62.7,
    ymin: -10, ymax: 110, minor: 10, major: 20, ytl: 6, minorLen: 4, ypad: 7,
    xtl: 5, xpad: 4, tickSize: 16, axisW: 1.5, axisColor: '#333' },
  { title: 'PCHDC, (C=C):(SH) = 4:1', titleFont: '19.5px "Liberation Sans"', titleX: 289, titleY: 40.3,
    yTitle: 'Normalised Raman Intensity', yTitleFont: '19px "Liberation Sans"', yTitleX: 18.7, yTitleY: 247,
    xTitleFont: '19.5px "Liberation Sans"', supFont: '12px "Liberation Sans"', supRise: 7, xTitleX: 315, xTitleY: 495,
    legend: { x: 451.7, y: 89, w: 112.3, h: 265.3, row0: 102.8, step: 23.8, x1: 454, x2: 498.3, tx: 504,
      font: '19px "Liberation Sans"', lineWidth: 1.5, border: '#666', borderWidth: 1.5 } });
</script>
</body>
</html>
